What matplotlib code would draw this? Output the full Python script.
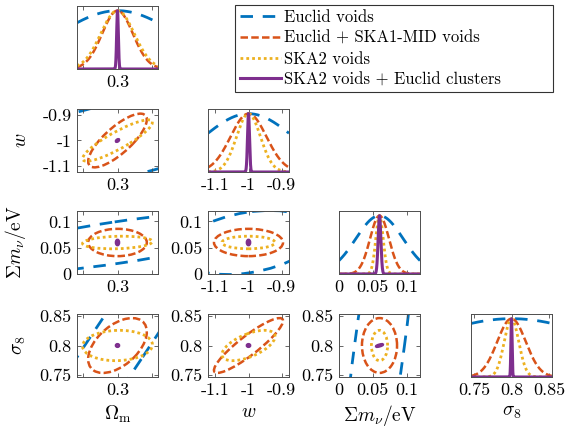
import numpy as np
import matplotlib
matplotlib.use('Agg')
import matplotlib.pyplot as plt
from matplotlib.patches import Ellipse
from matplotlib.lines import Line2D

plt.rcParams['font.family'] = 'cmr10'
plt.rcParams['mathtext.fontset'] = 'cm'
plt.rcParams['axes.unicode_minus'] = False
plt.rcParams['axes.formatter.use_mathtext'] = True

# parameters: Omega_m, w, sum m_nu, sigma_8
labels = [r'$\Omega_{\rm m}$', r'$w$', r'$\Sigma m_\nu/{\rm eV}$', r'$\sigma_8$']
fiducial = [0.3, -1.0, 0.06, 0.8]
tick_vals = [[0.25, 0.3, 0.35], [-1.1, -1.0, -0.9], [0.0, 0.05, 0.1], [0.75, 0.8, 0.85]]
tick_text = [['', '0.3', ''], ['-1.1', '-1', '-0.9'], ['0', '0.05', '0.1'], ['0.75', '0.8', '0.85']]
lims = [(0.242, 0.358), (-1.122, -0.878), (0.0, 0.12), (0.746, 0.854)]

surveys = ['Euclid voids', 'Euclid + SKA1-MID voids', 'SKA2 voids',
           'SKA2 voids + Euclid clusters']

# 1d marginal widths
sig_euclid = [0.085, 0.135, 0.035, 0.13]
sig_ska1 = [0.022, 0.054, 0.014, 0.019]
sig_ska2 = [0.024, 0.036, 0.0055, 0.0097]
sig_ska2_cl = [0.0012, 0.003, 0.002, 0.0008]

# half extents of the 2d contours
ext_euclid = [0.236, 0.21, 0.061, 0.42]
ext_ska1 = [0.042, 0.104, 0.026, 0.047]
ext_ska2 = [0.05, 0.08, 0.012, 0.026]
ext_ska2_cl = [0.0018, 0.004, 0.0045, 0.0018]

# correlations for pairs (0,1),(0,2),(0,3),(1,2),(1,3),(2,3)
pairs = [(0, 1), (0, 2), (0, 3), (1, 2), (1, 3), (2, 3)]
rho_euclid = [0.70, 0.755, 0.98, 0.31, 0.5, 0.795]
rho_ska1 = [0.78, 0.0, 0.5, 0.0, 0.9, 0.0]
rho_ska2 = [0.88, 0.15, 0.05, 0.0, 0.6, 0.0]
rho_ska2_cl = [0.6, 0.0, 0.0, 0.0, 0.0, 0.8]

sigs = [sig_euclid, sig_ska1, sig_ska2, sig_ska2_cl]
exts = [ext_euclid, ext_ska1, ext_ska2, ext_ska2_cl]
rhos = [rho_euclid, rho_ska1, rho_ska2, rho_ska2_cl]

styles = [
    dict(color='#0072BD', lw=2.0, ls=(0, (4.5, 3.5))),
    dict(color='#D95319', lw=1.8, ls=(0, (3.0, 1.3))),
    dict(color='#EDB120', lw=2.0, ls=(0, (1, 1.1))),
    dict(color='#7E2F8E', lw=2.2, ls='-'),
]

FW, FH = 565, 433
col_left = [77, 208, 339, 471]
row_top = [6, 109, 211, 314]
PW, PH = 81, 63
ylab_x = [None, -0.58, -0.60, -0.60]


def draw_ellipse(ax, cx, cy, a, b, rho, st):
    cov = np.array([[a * a, rho * a * b], [rho * a * b, b * b]])
    vals, vecs = np.linalg.eigh(cov)
    ang = np.degrees(np.arctan2(vecs[1, 1], vecs[0, 1]))
    e = Ellipse((cx, cy), 2 * np.sqrt(vals[1]), 2 * np.sqrt(vals[0]), angle=ang,
                fill=False, ec=st['color'], lw=st['lw'], ls=st['ls'])
    ax.add_patch(e)


fig = plt.figure(figsize=(FW / 100, FH / 100), dpi=100)

for i in range(4):
    for j in range(i + 1):
        ax = fig.add_axes([col_left[j] / FW, 1 - (row_top[i] + PH) / FH, PW / FW, PH / FH])
        ax.set_xlim(lims[j])
        ax.set_xticks(tick_vals[j])
        ax.set_xticklabels(tick_text[j])
        if i == j:
            x = np.linspace(lims[j][0], lims[j][1], 3000)
            for k in range(4):
                st = styles[k]
                y = np.exp(-0.5 * ((x - fiducial[j]) / sigs[k][j]) ** 2)
                ax.plot(x, y, color=st['color'], lw=st['lw'], ls=st['ls'])
            ax.set_ylim(0, 1.08)
            ax.set_yticks([])
        else:
            p = pairs.index((j, i))
            for k in range(4):
                draw_ellipse(ax, fiducial[j], fiducial[i], exts[k][j], exts[k][i],
                             rhos[k][p], styles[k])
            ax.set_ylim(lims[i])
            ax.set_yticks(tick_vals[i])
            ax.set_yticklabels(tick_text[i])
            if j == 0:
                ax.set_ylabel(labels[i], fontsize=14)
                ax.yaxis.set_label_coords(ylab_x[i], 0.5)
        ax.tick_params(direction='in', length=3, width=0.6, top=True, right=(i != j),
                       labelsize=13, pad=4, color='0.3')
        for s in ax.spines.values():
            s.set_color('0.3')
            s.set_linewidth(0.7)
        if i == 3:
            ax.set_xlabel(labels[j], fontsize=14, labelpad=4)

handles = [Line2D([], [], color=st['color'], lw=st['lw'], ls=st['ls']) for st in styles]
leg = fig.legend(handles, surveys, loc='upper left',
                 bbox_to_anchor=(235 / FW, 1 - 94 / FH, 318 / FW, 89 / FH),
                 mode='expand', fontsize=12, frameon=True, fancybox=False,
                 borderpad=0.3, labelspacing=0.32, handlelength=2.45,
                 handletextpad=0.2, borderaxespad=0)
leg.get_frame().set_edgecolor('black')
leg.get_frame().set_linewidth(0.8)

fig.savefig('out.png', dpi=100)
